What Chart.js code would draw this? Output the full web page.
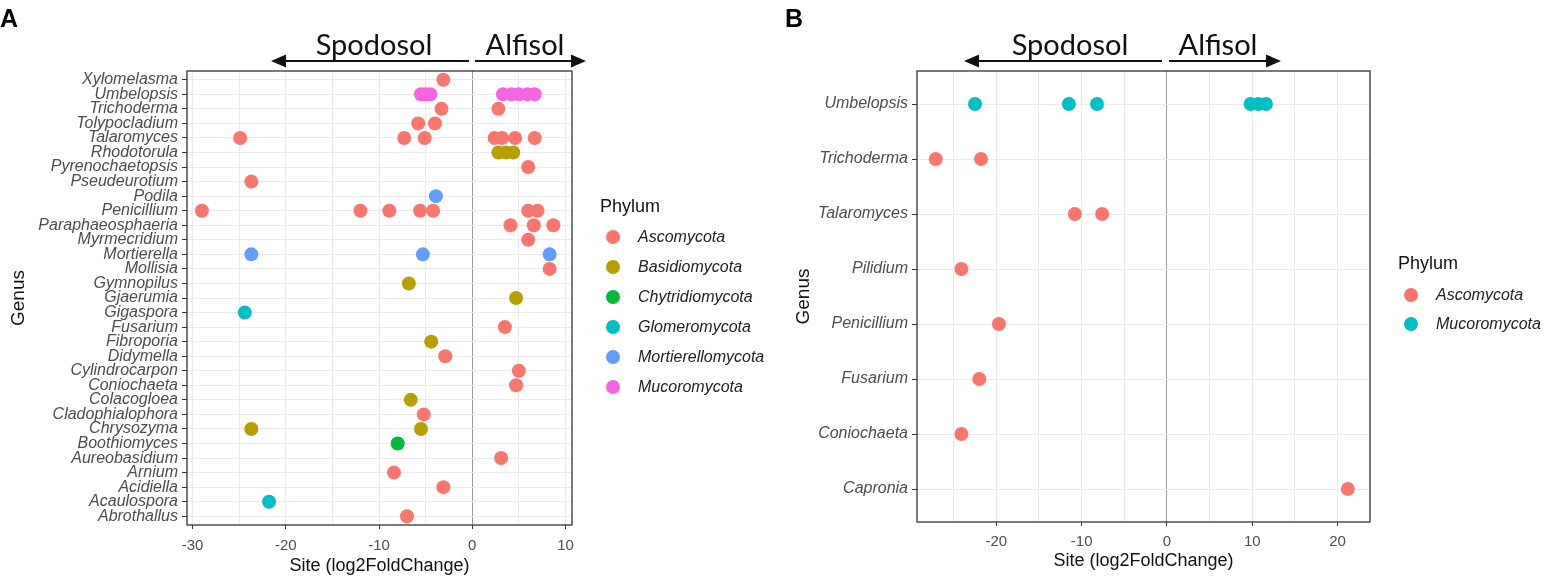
<!DOCTYPE html>
<html>
<head>
<meta charset="utf-8">
<script src="https://cdn.jsdelivr.net/npm/chart.js@4.4.1/dist/chart.umd.min.js"></script>
<style>
  html, body { margin:0; padding:0; background:#fff; width:1543px; height:581px; overflow:hidden;
    font-family:"Liberation Sans", Arial, sans-serif; }
  #wrapA { position:absolute; left:0; top:0; width:600px; height:581px; }
  #wrapB { position:absolute; left:780px; top:0; width:763px; height:581px; }
  .plabel { position:absolute; font-family:"Liberation Sans", Arial, sans-serif; font-weight:bold; font-size:25px; line-height:25px; }
  .soil { position:absolute; font-family:Lato, "Open Sans", sans-serif; font-size:29px; white-space:nowrap;
    transform:translate(-50%,-50%); color:#111; }
  .legTitle { position:absolute; font-size:18px; color:#111; transform:translateY(-50%); white-space:nowrap; }
  .legItem { position:absolute; font-size:16px; font-style:italic; color:#222; transform:translateY(-50%); white-space:nowrap; }
  .legDot { position:absolute; width:14px; height:14px; border-radius:50%; transform:translate(-50%,-50%); }
  svg { position:absolute; left:0; top:0; pointer-events:none; }
</style>
</head>
<body>
<script>
// ---------------- DATA ----------------
// Panel A: genera from top to bottom
const genusA = ["Xylomelasma","Umbelopsis","Trichoderma","Tolypocladium","Talaromyces","Rhodotorula",
  "Pyrenochaetopsis","Pseudeurotium","Podila","Penicillium","Paraphaeosphaeria","Myrmecridium",
  "Mortierella","Mollisia","Gymnopilus","Gjaerumia","Gigaspora","Fusarium","Fibroporia","Didymella",
  "Cylindrocarpon","Coniochaeta","Colacogloea","Cladophialophora","Chrysozyma","Boothiomyces",
  "Aureobasidium","Arnium","Acidiella","Acaulospora","Abrothallus"];
const phylaA = ["Ascomycota","Basidiomycota","Chytridiomycota","Glomeromycota","Mortierellomycota","Mucoromycota"];
const colorsA = ["#F8766D","#B79F00","#00BA38","#00BFC4","#619CFF","#F564E3"];

// [genus, log2FoldChange]
const A_Ascomycota = [
  ["Xylomelasma",-3.1],
  ["Trichoderma",-3.3],["Trichoderma",2.8],
  ["Tolypocladium",-5.8],["Tolypocladium",-4.0],
  ["Talaromyces",-24.9],["Talaromyces",-7.3],["Talaromyces",-5.1],["Talaromyces",2.4],["Talaromyces",3.2],["Talaromyces",4.6],["Talaromyces",6.7],
  ["Pyrenochaetopsis",6.0],
  ["Pseudeurotium",-23.7],
  ["Penicillium",-29.0],["Penicillium",-12.0],["Penicillium",-8.9],["Penicillium",-5.6],["Penicillium",-4.2],["Penicillium",6.0],["Penicillium",7.0],
  ["Paraphaeosphaeria",4.1],["Paraphaeosphaeria",6.6],["Paraphaeosphaeria",8.7],
  ["Myrmecridium",6.0],
  ["Mollisia",8.3],
  ["Fusarium",3.5],
  ["Didymella",-2.9],
  ["Cylindrocarpon",5.0],
  ["Coniochaeta",4.7],
  ["Cladophialophora",-5.2],
  ["Aureobasidium",3.1],
  ["Arnium",-8.4],
  ["Acidiella",-3.1],
  ["Abrothallus",-7.0]
];
const A_Basidiomycota = [
  ["Rhodotorula",2.8],["Rhodotorula",3.6],["Rhodotorula",4.4],
  ["Gymnopilus",-6.8],
  ["Gjaerumia",4.7],
  ["Fibroporia",-4.4],
  ["Colacogloea",-6.6],
  ["Chrysozyma",-23.7],["Chrysozyma",-5.5]
];
const A_Chytridiomycota = [["Boothiomyces",-8.0]];
const A_Glomeromycota = [["Gigaspora",-24.4],["Acaulospora",-21.8]];
const A_Mortierellomycota = [["Podila",-3.9],["Mortierella",-23.7],["Mortierella",-5.3],["Mortierella",8.3]];
const A_Mucoromycota = [
  ["Umbelopsis",-5.5],["Umbelopsis",-5.0],["Umbelopsis",-4.5],
  ["Umbelopsis",3.3],["Umbelopsis",4.2],["Umbelopsis",5.0],["Umbelopsis",5.9],["Umbelopsis",6.7]
];
const seriesA = [A_Ascomycota, A_Basidiomycota, A_Chytridiomycota, A_Glomeromycota, A_Mortierellomycota, A_Mucoromycota];
const xGridA = [-30,-25,-20,-15,-10,-5,0,5,10];

// Panel B
const genusB = ["Umbelopsis","Trichoderma","Talaromyces","Pilidium","Penicillium","Fusarium","Coniochaeta","Capronia"];
const phylaB = ["Ascomycota","Mucoromycota"];
const colorsB = ["#F8766D","#00BFC4"];
const B_Ascomycota = [
  ["Trichoderma",-27.1],["Trichoderma",-21.8],
  ["Talaromyces",-10.8],["Talaromyces",-7.6],
  ["Pilidium",-24.1],
  ["Penicillium",-19.7],
  ["Fusarium",-22.0],
  ["Coniochaeta",-24.1],
  ["Capronia",21.2]
];
const B_Mucoromycota = [
  ["Umbelopsis",-22.5],["Umbelopsis",-11.5],["Umbelopsis",-8.2],
  ["Umbelopsis",9.8],["Umbelopsis",10.7],["Umbelopsis",11.6]
];
const seriesB = [B_Ascomycota, B_Mucoromycota];
const xGridB = [-25,-20,-15,-10,-5,0,5,10,15,20];

const xTitle = "Site (log2FoldChange)";
const yTitle = "Genus";
const soilLeft = "Spodosol", soilRight = "Alfisol";
const legendTitle = "Phylum";
</script>

<div id="wrapA"><canvas id="cA" width="600" height="581"></canvas></div>
<div id="wrapB"><canvas id="cB" width="763" height="581"></canvas></div>
<div id="overlay"></div>

<script>
const FONT = '"Liberation Sans", Arial, sans-serif';

const boxPlugin = {
  id: 'box',
  afterDraw(chart) {
    const {ctx, chartArea: a} = chart;
    ctx.save();
    ctx.strokeStyle = '#333';
    ctx.lineWidth = 1.3;
    ctx.strokeRect(a.left, a.top, a.right - a.left, a.bottom - a.top);
    ctx.restore();
  }
};

function makeChart(id, genus, phyla, colors, series, xGrid, xmin, xmax, yAxisWidth, xAxisHeight, padRight, yTitlePad, xTitlePad, xTickPad) {
  const datasets = series.map((pairs, k) => ({
    label: phyla[k],
    data: pairs.map(([g, v]) => ({x: v, y: genus.indexOf(g)})),
    backgroundColor: colors[k],
    borderWidth: 0,
    pointRadius: 7,
    pointHoverRadius: 7
  }));
  return new Chart(document.getElementById(id), {
    type: 'scatter',
    data: {datasets},
    plugins: [boxPlugin],
    options: {
      responsive: false,
      animation: false,
      layout: {padding: {top: 71, right: padRight, left: 0, bottom: 0}},
      plugins: {legend: {display: false}, tooltip: {enabled: false}},
      scales: {
        x: {
          type: 'linear', position: 'bottom', min: xmin, max: xmax,
          afterBuildTicks: s => { s.ticks = xGrid.map(v => ({value: v})); },
          afterFit: s => { s.height = xAxisHeight; },
          border: {display: false},
          grid: {
            color: c => (c.tick && c.tick.value === 0) ? '#9a9a9a' : '#ebebeb',
            lineWidth: 1,
            tickLength: 4,
            tickColor: c => (c.tick && c.tick.value % 10 === 0) ? '#333' : 'rgba(0,0,0,0)'
          },
          ticks: {
            autoSkip: false, maxRotation: 0, padding: xTickPad, color: '#4d4d4d',
            font: {family: FONT, size: 15},
            callback: v => (v % 10 === 0 ? String(v) : '')
          },
          title: {display: true, text: xTitle, color: '#111', font: {family: FONT, size: 18},
                  padding: {top: 0, bottom: xTitlePad}}
        },
        y: {
          type: 'linear', reverse: true, min: -0.6, max: genus.length - 1 + 0.6,
          afterBuildTicks: s => { s.ticks = genus.map((g, i) => ({value: i})); },
          afterFit: s => { s.width = yAxisWidth; },
          border: {display: false},
          grid: {color: '#ebebeb', lineWidth: 1, tickLength: 5, tickColor: '#333'},
          ticks: {
            autoSkip: false, padding: 4, color: '#4d4d4d',
            font: {family: FONT, size: 16, style: 'italic'},
            callback: v => genus[v]
          },
          title: {display: true, text: yTitle, color: '#111', font: {family: FONT, size: 19},
                  padding: {top: yTitlePad, bottom: 0}}
        }
      }
    }
  });
}

makeChart('cA', genusA, phylaA, colorsA, seriesA, xGridA, -30.6, 10.7, 187, 56, 28, 7, 4, 8);
makeChart('cB', genusB, phylaB, colorsB, seriesB, xGridB, -29.3, 23.8, 137, 59, 173, 12, 9, 7);

// ---------------- Overlay: panel labels, soil arrows, legends ----------------
const ov = document.getElementById('overlay');
function addDiv(cls, text, x, y, extra) {
  const d = document.createElement('div');
  d.className = cls;
  if (text !== null) d.textContent = text;
  d.style.left = x + 'px'; d.style.top = y + 'px';
  if (extra) Object.assign(d.style, extra);
  ov.appendChild(d);
  return d;
}
addDiv('plabel', 'A', 0, 6);
addDiv('plabel', 'B', 785, 6);

addDiv('soil', soilLeft, 374, 43);
addDiv('soil', soilRight, 525, 43);
addDiv('soil', soilLeft, 1070, 43);
addDiv('soil', soilRight, 1218, 43);

const NS = 'http://www.w3.org/2000/svg';
const svg = document.createElementNS(NS, 'svg');
svg.setAttribute('width', 1543); svg.setAttribute('height', 581);
function arrow(x1, x2, y) { // from x1 to tip at x2
  const dir = x2 > x1 ? 1 : -1;
  const line = document.createElementNS(NS, 'line');
  line.setAttribute('x1', x1); line.setAttribute('x2', x2 - dir * 10);
  line.setAttribute('y1', y); line.setAttribute('y2', y);
  line.setAttribute('stroke', '#111'); line.setAttribute('stroke-width', 2.2);
  svg.appendChild(line);
  const p = document.createElementNS(NS, 'polygon');
  p.setAttribute('points', `${x2},${y} ${x2 - dir * 15},${y - 6.5} ${x2 - dir * 15},${y + 6.5}`);
  p.setAttribute('fill', '#111');
  svg.appendChild(p);
}
arrow(469, 271, 61); arrow(475, 586, 61);
arrow(1162, 964, 61); arrow(1169, 1281, 61);
ov.appendChild(svg);

function legend(x, yTitleC, yFirst, step, phyla, colors) {
  addDiv('legTitle', legendTitle, x, yTitleC);
  phyla.forEach((p, i) => {
    const y = yFirst + i * step;
    addDiv('legDot', null, x + 13, y, {background: colors[i]});
    addDiv('legItem', p, x + 38, y);
  });
}
legend(600, 206, 237, 30, phylaA, colorsA);
legend(1398, 263, 295, 29, phylaB, colorsB);
</script>
</body>
</html>
